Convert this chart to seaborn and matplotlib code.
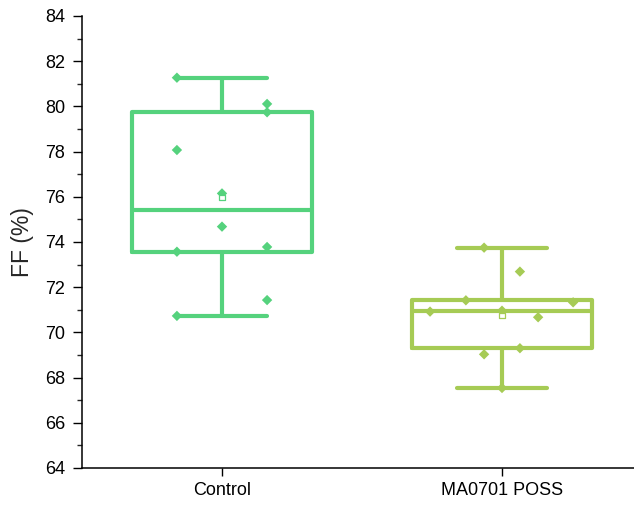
import numpy as np
import pandas as pd
import matplotlib
matplotlib.use("Agg")
import matplotlib.pyplot as plt
import seaborn as sns

categories = ["Control", "MA0701 POSS"]
control_ff = [81.27, 80.11, 79.74, 78.07, 76.15, 74.68, 73.57, 73.78, 71.43, 70.73]
poss_ff = [73.75, 72.69, 71.42, 71.33, 70.92, 70.96, 70.67, 69.30, 69.03, 67.54]
y_ticks = [64, 66, 68, 70, 72, 74, 76, 78, 80, 82, 84]

# layout: horizontal spread of the points inside each box (category units)
control_offsets = [-0.161, 0.161, 0.161, -0.161, 0.0, 0.0, -0.161, 0.161, 0.161, -0.161]
poss_offsets = [-0.064, 0.064, -0.129, 0.254, -0.257, 0.0, 0.129, 0.064, -0.064, 0.0]
colors = ["#55D27D", "#A6CB55"]

sns.set_style("ticks")
plt.rcParams["font.family"] = ["Liberation Sans", "DejaVu Sans"]

fig = plt.figure(figsize=(6.34, 5.05), dpi=100)
ax = fig.add_axes([82 / 634, 37 / 505, 1 - 82 / 634, 452 / 505])

groups = [control_ff, poss_ff]
offsets = [control_offsets, poss_offsets]

rows = []
for i, (cat, vals, offs) in enumerate(zip(categories, groups, offsets)):
    for v, o in zip(vals, offs):
        rows.append({"group": cat, "pos": i + o, "ff": v})
df = pd.DataFrame(rows)

# box statistics (Tukey hinges, min/max whiskers)
stats = []
for vals in groups:
    s = np.sort(np.array(vals))
    n = len(s)
    lower = s[: n // 2]
    upper = s[(n + 1) // 2:]
    stats.append({
        "med": float(np.median(s)),
        "q1": float(np.median(lower)),
        "q3": float(np.median(upper)),
        "whislo": float(s.min()),
        "whishi": float(s.max()),
        "mean": float(np.mean(s)),
        "fliers": [],
    })

lw = 3.0
for i, st in enumerate(stats):
    c = colors[i]
    ax.bxp([st], positions=[i], widths=0.646, showfliers=False, showmeans=False,
           patch_artist=False,
           boxprops=dict(color=c, linewidth=lw),
           medianprops=dict(color=c, linewidth=lw),
           whiskerprops=dict(color=c, linewidth=lw),
           capprops=dict(color=c, linewidth=lw),
           capwidths=0.32, manage_ticks=False)

sns.scatterplot(data=df, x="pos", y="ff", hue="group", palette=colors,
                marker="D", s=28, linewidth=0, legend=False, ax=ax, zorder=5)

mean_df = pd.DataFrame({"pos": [0, 1], "ff": [st["mean"] for st in stats],
                        "group": categories})
sns.scatterplot(data=mean_df, x="pos", y="ff", hue="group", palette=colors,
                marker="s", s=14, legend=False, ax=ax, zorder=6, linewidth=0.9)
coll = ax.collections[-1]
coll.set_facecolor("white")
coll.set_edgecolor(colors)

ax.set_xlim(-0.5, 1.5 - 8 / 280)
ax.set_ylim(64, 84)
ax.set_yticks(y_ticks)
ax.set_yticks(np.arange(65, 84, 2), minor=True)
ax.set_xticks([0, 1])
ax.set_xticklabels(categories)
ax.set_xlabel("")
ax.set_ylabel("FF (%)", fontsize=16.5)
ax.yaxis.set_label_coords(-(82 - 34) / 552, 0.5)
ax.tick_params(axis="y", which="major", labelsize=13, length=6.5, width=1, pad=5.5,
               direction="out", colors="black")
ax.tick_params(axis="x", which="major", labelsize=13, length=6, width=1, pad=4,
               direction="out", colors="black")
ax.tick_params(axis="y", which="minor", length=3.7, width=1, direction="out")
sns.despine(ax=ax)
for sp in ["left", "bottom"]:
    ax.spines[sp].set_linewidth(1.1)
    ax.spines[sp].set_color("black")

fig.savefig("out.png", dpi=100)
